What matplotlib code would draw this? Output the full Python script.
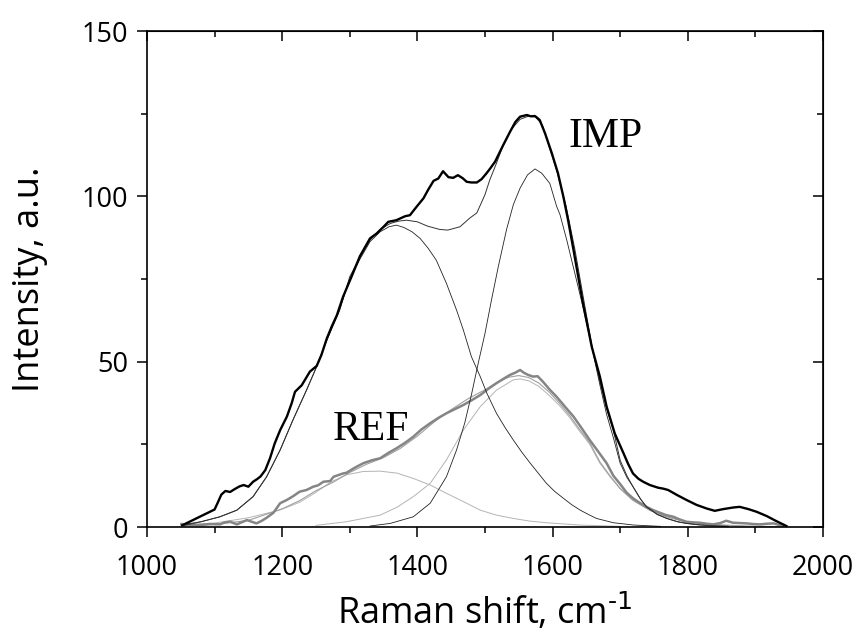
import numpy as np
import matplotlib
matplotlib.use("Agg")
import matplotlib.pyplot as plt
from matplotlib.ticker import MultipleLocator

# IMP sample: measured spectrum
imp_x = [1052, 1065, 1075, 1085, 1093, 1100, 1105, 1110, 1116, 1123, 1130, 1137, 1143, 1150,
         1157, 1163, 1168, 1175, 1182, 1189, 1197, 1207, 1214, 1219, 1229, 1241, 1251, 1258,
         1266, 1273, 1281, 1290, 1303, 1315, 1330, 1340, 1350, 1357, 1369, 1382, 1389, 1399,
         1409, 1416, 1424, 1431, 1438, 1446, 1453, 1460, 1467, 1473, 1480, 1488, 1495, 1502,
         1508, 1515, 1521, 1527, 1537, 1545, 1552, 1562, 1568, 1574, 1581, 1589, 1599, 1608,
         1616, 1623, 1631, 1638, 1645, 1653, 1658, 1664, 1670, 1680, 1692, 1705, 1712, 1719,
         1727, 1734, 1744, 1756, 1764, 1771, 1784, 1798, 1813, 1828, 1840, 1852, 1867, 1877,
         1890, 1902, 1917, 1931, 1946]
imp_y = [0.5, 1.8, 2.8, 3.8, 4.6, 5.3, 7.5, 9.8, 10.9, 10.6, 11.5, 12.3, 12.7, 12.2,
         13.7, 14.5, 15.3, 17.2, 20.8, 25.3, 29.3, 33.4, 37.4, 40.9, 42.9, 47.0, 48.7, 52.0,
         57.0, 60.5, 64.1, 69.6, 75.9, 81.9, 87.3, 88.8, 90.8, 92.3, 92.8, 94.0, 94.3, 96.9,
         99.4, 102.0, 104.7, 105.4, 107.6, 105.8, 105.6, 106.4, 105.5, 104.4, 104.2, 104.2, 105.2, 106.9,
         108.5, 110.5, 113.0, 115.5, 119.5, 122.5, 124.1, 124.6, 124.2, 124.3, 123.1, 119.0, 113.0, 107.0,
         99.9, 92.8, 83.8, 75.7, 67.6, 59.6, 54.5, 50.0, 45.5, 36.4, 28.3, 22.3, 19.0, 16.2,
         14.6, 13.7, 12.7, 11.9, 11.6, 11.2, 9.7, 8.2, 6.7, 5.6, 4.9, 5.4, 5.9, 6.1,
         5.4, 4.6, 3.3, 1.8, 0.3]

# IMP fit: total and two bands
impfit_x = [1055, 1080, 1108, 1133, 1157, 1177, 1197, 1216, 1236, 1251, 1266, 1285, 1300, 1315,
            1330, 1345, 1360, 1372, 1384, 1400, 1415, 1433, 1445, 1463, 1478, 1488, 1500, 1507,
            1517, 1527, 1540, 1552, 1565, 1575, 1585, 1595, 1606, 1620, 1633, 1645, 1658, 1670,
            1680, 1690, 1700, 1710, 1719, 1730, 1739, 1755, 1769, 1785, 1798, 1815, 1833, 1860]
impfit_y = [0.5, 1.6, 3.1, 5.1, 9.2, 15.2, 23.3, 32.4, 41.4, 48.5, 56.5, 65.5, 75.7, 81.5,
            86.8, 90.0, 91.8, 92.5, 92.8, 92.3, 91.0, 90.0, 89.8, 90.8, 93.5, 95.0, 100.5, 104.9,
            110.0, 115.5, 120.5, 123.3, 124.3, 124.0, 121.5, 115.0, 108.0, 97.0, 84.0, 70.0, 55.0, 44.0,
            36.0, 29.3, 20.2, 15.5, 12.2, 8.5, 6.1, 3.8, 2.6, 1.6, 1.1, 0.7, 0.4, 0.2]

imp_d_x = [1056, 1080, 1108, 1133, 1157, 1177, 1197, 1216, 1236, 1251, 1266, 1285, 1300, 1315,
           1330, 1345, 1358, 1369, 1380, 1392, 1404, 1416, 1428, 1443, 1458, 1468, 1480, 1493,
           1503, 1517, 1530, 1542, 1555, 1567, 1580, 1591, 1603, 1616, 1628, 1641, 1653, 1665,
           1690, 1720, 1760]
imp_d_y = [0.8, 1.6, 3.1, 5.1, 9.2, 15.2, 23.3, 32.4, 41.4, 48.5, 56.5, 66.0, 75.0, 81.0,
           86.3, 89.3, 90.8, 91.3, 90.6, 89.3, 87.3, 84.3, 80.7, 73.7, 65.6, 59.6, 51.5, 45.5,
           40.4, 34.4, 30.0, 26.3, 22.5, 19.3, 16.0, 13.2, 10.8, 8.7, 6.8, 5.1, 3.8, 2.6,
           1.3, 0.6, 0.2]

imp_g_x = [1330, 1360, 1394, 1419, 1443, 1458, 1470, 1480, 1490, 1500, 1510, 1520, 1532, 1542,
           1552, 1563, 1574, 1584, 1596, 1606, 1611, 1621, 1633, 1645, 1658, 1670, 1680, 1690,
           1700, 1710, 1719, 1730, 1739, 1755, 1769, 1785, 1798, 1815, 1833, 1860]
imp_g_y = [0.3, 1.1, 3.1, 7.2, 15.2, 23.3, 31.4, 40.0, 49.5, 58.5, 69.0, 79.0, 90.0, 97.5,
           102.5, 106.5, 108.3, 107.0, 103.9, 97.0, 94.5, 86.8, 76.7, 66.6, 54.5, 43.0, 34.0, 27.0,
           19.3, 15.0, 12.2, 8.5, 6.1, 3.8, 2.6, 1.6, 1.1, 0.7, 0.4, 0.2]

# REF sample: measured spectrum
ref_x = [1051, 1065, 1078, 1092, 1108, 1115, 1123, 1133, 1142, 1148, 1155, 1162, 1170, 1177,
         1187, 1197, 1207, 1216, 1226, 1236, 1246, 1253, 1261, 1271, 1276, 1290, 1295, 1308,
         1320, 1333, 1345, 1357, 1369, 1382, 1394, 1406, 1419, 1431, 1443, 1455, 1468, 1480,
         1493, 1505, 1517, 1528, 1537, 1545, 1552, 1558, 1564, 1571, 1578, 1586, 1596, 1606,
         1618, 1631, 1643, 1655, 1668, 1680, 1690, 1700, 1710, 1719, 1729, 1739, 1749, 1759,
         1768, 1779, 1788, 1798, 1808, 1818, 1828, 1838, 1848, 1857, 1867, 1877, 1887, 1897,
         1907, 1917, 1927, 1941]
ref_y = [0.9, 0.7, 0.6, 0.9, 0.8, 1.4, 1.6, 0.8, 1.6, 2.1, 1.6, 1.1, 1.9, 2.8,
         4.3, 7.2, 8.2, 9.3, 10.7, 11.2, 12.2, 12.6, 13.7, 13.9, 15.2, 16.2, 16.4, 18.0,
         19.3, 20.2, 20.8, 22.4, 23.8, 25.5, 27.3, 29.5, 31.4, 33.0, 34.4, 35.6, 36.9, 38.3,
         39.9, 41.8, 43.5, 44.9, 46.0, 46.7, 47.5, 46.6, 46.0, 45.5, 45.6, 43.9, 41.5, 39.4,
         36.5, 33.4, 29.9, 26.3, 22.7, 19.3, 15.5, 13.0, 10.3, 8.7, 7.3, 6.1, 5.1, 4.3,
         3.6, 3.1, 2.3, 1.6, 1.4, 1.3, 1.0, 0.8, 1.2, 1.9, 1.3, 1.2, 1.1, 0.9,
         0.8, 1.0, 1.1, 0.3]

# REF fit: total and two bands
reffit_x = [1055, 1100, 1150, 1200, 1226, 1250, 1275, 1300, 1325, 1350, 1375, 1400, 1425, 1450,
            1475, 1500, 1520, 1535, 1550, 1565, 1580, 1595, 1610, 1625, 1640, 1655, 1670, 1685,
            1700, 1719, 1744, 1769, 1798, 1833, 1887, 1940]
reffit_y = [0.3, 0.8, 2.0, 5.5, 8.0, 11.0, 13.5, 16.5, 19.0, 21.0, 23.8, 27.5, 31.8, 35.5,
            38.8, 41.5, 44.0, 45.3, 45.8, 45.2, 43.5, 40.8, 37.5, 33.8, 29.5, 25.5, 19.7, 15.5,
            11.7, 8.2, 5.1, 3.1, 1.6, 0.8, 0.3, 0.1]

ref_d_x = [1053, 1100, 1150, 1196, 1226, 1250, 1271, 1295, 1320, 1345, 1370, 1394, 1419, 1443,
           1468, 1493, 1517, 1542, 1566, 1591, 1640, 1700]
ref_d_y = [0.6, 1.2, 2.8, 5.1, 7.5, 10.5, 13.5, 15.8, 16.8, 16.9, 16.3, 14.7, 12.7, 10.2,
           7.7, 5.1, 3.6, 2.6, 1.8, 1.3, 0.6, 0.2]

ref_g_x = [1250, 1295, 1345, 1370, 1394, 1419, 1443, 1468, 1493, 1517, 1542, 1552, 1565, 1580,
           1595, 1610, 1625, 1640, 1655, 1670, 1685, 1700, 1719, 1744, 1769, 1798, 1833, 1887]
ref_g_y = [0.5, 1.6, 3.6, 6.0, 9.2, 13.2, 20.3, 29.3, 36.4, 41.4, 44.5, 44.8, 44.2, 42.5,
           39.8, 36.8, 33.2, 29.0, 25.0, 19.3, 15.2, 11.5, 8.0, 5.0, 3.0, 1.5, 0.7, 0.2]

plt.rcParams['font.family'] = ['Open Sans', 'DejaVu Sans']
plt.rcParams['mathtext.default'] = 'regular'

fig = plt.figure(figsize=(8.6, 6.41), dpi=100)
ax = fig.add_axes([0.1709, 0.1778, 0.7860, 0.7738])

# REF curves (gray)
ax.plot(ref_d_x, ref_d_y, color='#b4b4b4', lw=0.7)
ax.plot(ref_g_x, ref_g_y, color='#b4b4b4', lw=0.7)
ax.plot(reffit_x, reffit_y, color='#a0a0a0', lw=0.8)
ax.plot(ref_x, ref_y, color='#858585', lw=1.8)

# IMP curves (black)
ax.plot(imp_d_x, imp_d_y, color='#222222', lw=0.6)
ax.plot(imp_g_x, imp_g_y, color='#222222', lw=0.6)
ax.plot(impfit_x, impfit_y, color='#333333', lw=0.7)
ax.plot(imp_x, imp_y, color='black', lw=1.7)

ax.text(1679, 118, 'IMP', family='Liberation Serif', fontsize=30, ha='center', va='center')
ax.text(1331, 29.3, 'REF', family='Liberation Serif', fontsize=30, ha='center', va='center')

ax.set_xlim(1000, 2000)
ax.set_ylim(0, 150)
ax.xaxis.set_major_locator(MultipleLocator(200))
ax.xaxis.set_minor_locator(MultipleLocator(100))
ax.yaxis.set_major_locator(MultipleLocator(50))
ax.yaxis.set_minor_locator(MultipleLocator(25))
ax.tick_params(which='major', direction='out', length=7.5, width=1.1, labelsize=19.5)
ax.tick_params(which='minor', direction='out', length=4, width=1.1)
ax.tick_params(axis='x', which='major', pad=12)
ax.tick_params(axis='y', which='major', pad=6)
for s in ax.spines.values():
    s.set_linewidth(1.2)

# top and right ticks point inward
top = ax.secondary_xaxis('top')
top.xaxis.set_major_locator(MultipleLocator(200))
top.xaxis.set_minor_locator(MultipleLocator(100))
top.tick_params(which='major', direction='in', length=7.5, width=1.1, labeltop=False)
top.tick_params(which='minor', direction='in', length=4, width=1.1)
right = ax.secondary_yaxis('right')
right.yaxis.set_major_locator(MultipleLocator(50))
right.yaxis.set_minor_locator(MultipleLocator(25))
right.tick_params(which='major', direction='in', length=7.5, width=1.1, labelright=False)
right.tick_params(which='minor', direction='in', length=4, width=1.1)

ax.set_xlabel(r'Raman shift, cm$^{\text{-1}}$', fontsize=26, labelpad=7)
ax.set_ylabel('Intensity, a.u.', fontsize=26, labelpad=24)

fig.savefig('out.png', dpi=100)
